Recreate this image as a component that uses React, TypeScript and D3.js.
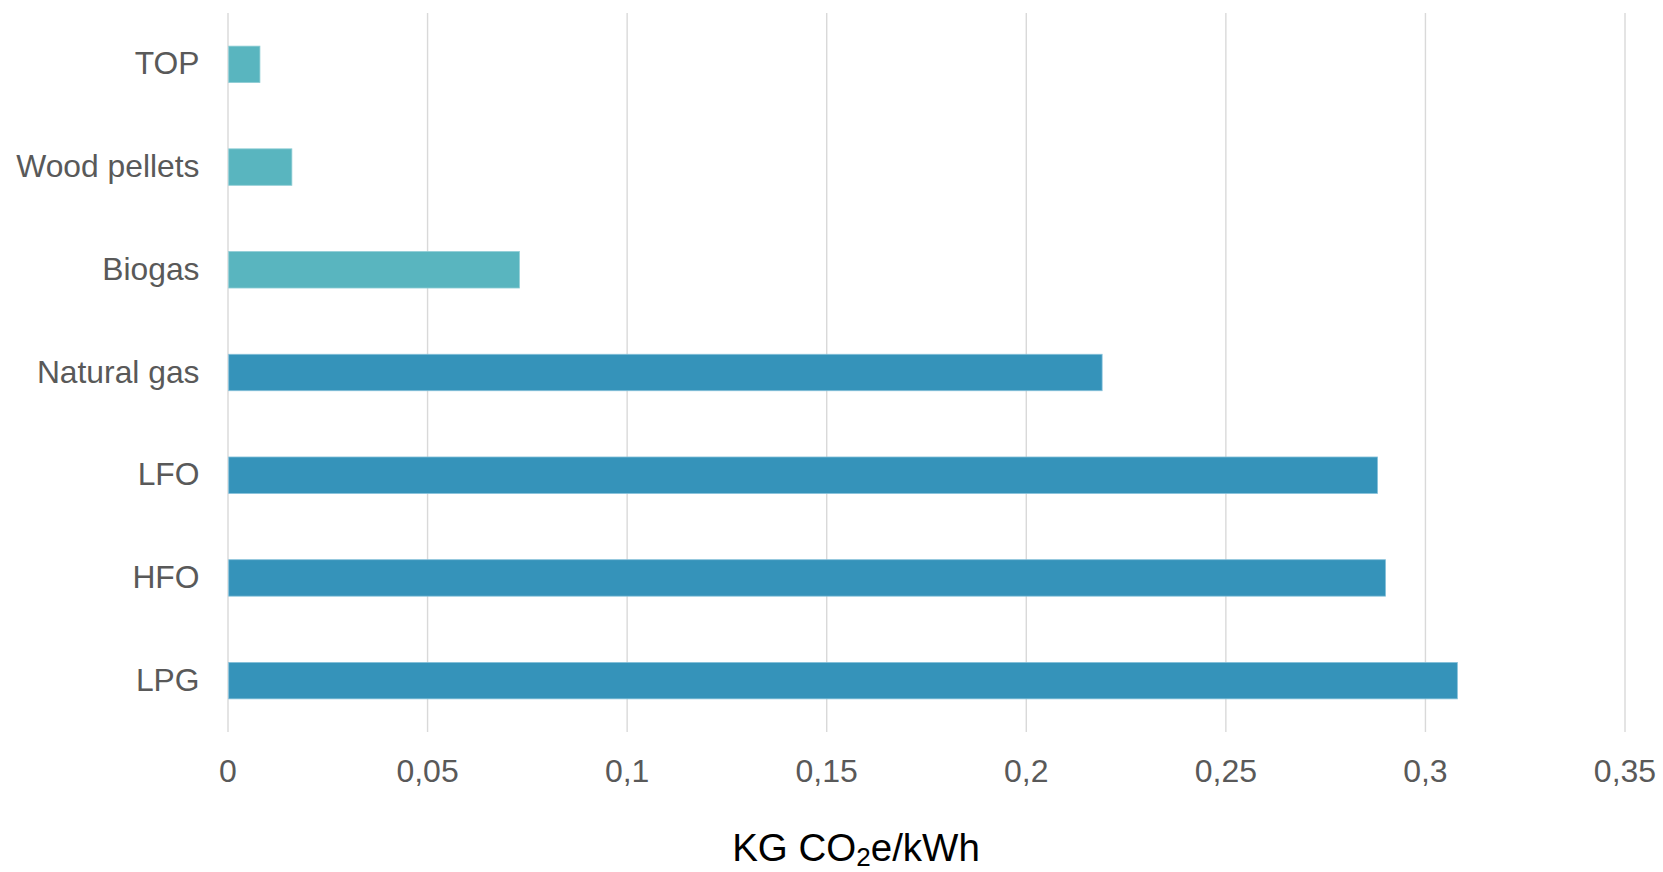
import React from "react";
import * as d3 from "d3";

const categories = ["TOP", "Wood pellets", "Biogas", "Natural gas", "LFO", "HFO", "LPG"];
const values = [0.008, 0.016, 0.073, 0.219, 0.288, 0.29, 0.308];
const renewable = [true, true, true, false, false, false, false];
const xTicks = [0, 0.05, 0.1, 0.15, 0.2, 0.25, 0.3, 0.35];
const xTickLabels = ["0", "0,05", "0,1", "0,15", "0,2", "0,25", "0,3", "0,35"];

const W = 1663;
const H = 872;
const FONT = "'Liberation Sans', Arial, Helvetica, sans-serif";

export default function App() {
  const x = d3.scaleLinear().domain([0, 0.35]).range([228, 1625]);
  const y = d3
    .scaleBand<string>()
    .domain(categories)
    .range([13, 732])
    .paddingInner(0.645)
    .paddingOuter(0.3225);

  return (
    <svg
      width={W}
      height={H}
      style={{ position: "absolute", left: 0, top: 0, background: "#fff" }}
      fontFamily={FONT}
    >
      <g>
        {xTicks.map((t) => (
          <line
            key={"g" + t}
            x1={x(t)}
            x2={x(t)}
            y1={13}
            y2={732}
            stroke="#D9D9D9"
            strokeWidth={1.4}
          />
        ))}
      </g>
      <g>
        {categories.map((c, i) => (
          <rect
            key={c}
            x={x(0) + 0.7}
            y={y(c)!}
            width={x(values[i]) - x(0) - 0.7}
            height={y.bandwidth()}
            fill={renewable[i] ? "#59B5BF" : "#3593BA"}
            stroke={renewable[i] ? "#8fcdd5" : "#86c0da"}
            strokeWidth={0.8}
          />
        ))}
      </g>
      <g fill="#595959" fontSize={31.8}>
        {categories.map((c) => (
          <text
            key={"l" + c}
            x={199.5}
            y={y(c)! + y.bandwidth() / 2 + 10}
            textAnchor="end"
          >
            {c}
          </text>
        ))}
      </g>
      <g fill="#595959" fontSize={32}>
        {xTicks.map((t, i) => (
          <text key={"t" + t} x={x(t)} y={782} textAnchor="middle">
            {xTickLabels[i]}
          </text>
        ))}
      </g>
      <text x={856} y={860.5} textAnchor="middle" fontSize={38.5} fill="#000">
        KG CO
        <tspan fontSize={26} dy={5}>
          2
        </tspan>
        <tspan dy={-5}>e/kWh</tspan>
      </text>
    </svg>
  );
}
